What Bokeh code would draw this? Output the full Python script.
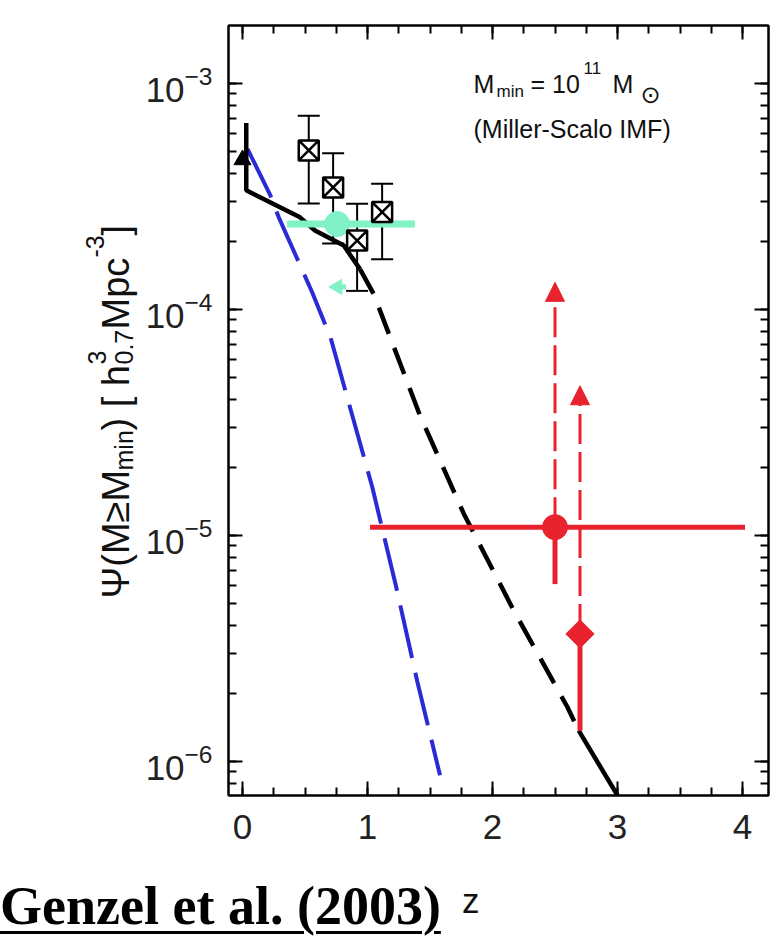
import math
from bokeh.plotting import figure
from bokeh.layouts import column, row
from bokeh.models import (Range1d, LinearAxis, LogAxis, SingleIntervalTicker, LogTicker,
                          CustomJSTickFormatter, Label, Whisker, TeeHead, Arrow, NormalHead,
                          ColumnDataSource, Div)
from bokeh.core.properties import value
from bokeh.embed import file_html
from bokeh.resources import INLINE

# ---------------- data ----------------
black_solid_z = [0.03, 0.03, 0.46, 0.58, 0.81, 0.94]
black_solid_psi = [6.7e-4, 3.37e-4, 2.56e-4, 2.24e-4, 1.92e-4, 1.51e-4]
black_dash_z = [0.94, 1.05, 1.42, 1.77, 2.17, 2.60, 2.69]
black_dash_psi = [1.51e-4, 1.17e-4, 3.4e-5, 1.25e-5, 4.66e-6, 1.74e-6, 1.37e-6]
black_tail_z = [2.69, 3.03]
black_tail_psi = [1.37e-6, 6.65e-7]

blue_z = [0.04, 0.224, 0.29, 0.558, 0.704, 1.038, 1.224, 1.397, 1.58]
blue_psi = [5.14e-4, 3.19e-4, 2.56e-4, 1.19e-4, 7.53e-5, 1.64e-5, 6.11e-6, 2.28e-6, 8.7e-7]

tri_z = [0.0]
tri_psi = [4.6e-4]

sq_z = [0.53, 0.725, 0.917, 1.117]
sq_psi = [5.06e-4, 3.47e-4, 2.02e-4, 2.70e-4]
sq_hi = [7.2e-4, 4.92e-4, 2.94e-4, 3.6e-4]
sq_lo = [2.95e-4, 1.96e-4, 1.21e-4, 1.67e-4]

green_z = [0.757]
green_psi = [2.39e-4]
green_zlo = [0.357]
green_zhi = [1.38]
green_lim_z = [0.76]
green_lim_psi = [1.26e-4]

red_c_z = [2.5]
red_c_psi = [1.09e-5]
red_c_zlo = [1.02]
red_c_zhi = [4.02]
red_c_lo = [6.1e-6]
red_c_lim = [1.32e-4]

red_d_z = [2.7]
red_d_psi = [3.67e-6]
red_d_lo = [1.37e-6]
red_d_lim = [4.6e-5]

BLUE = "#2b2bd6"
RED = "#e8232e"
GREEN = "#80f2c6"

W, H = 778, 939
LEFT_W = 141          # strip holding the y-axis title
TOP_H = 860           # height of the plot row
BOT_H = H - TOP_H     # strip holding caption and x-axis title
FR_TOP, FR_BOT = 25, 795   # page y of the plot frame

# pixel (page) -> data helpers for text inside the frame
def zx(px):
    return (px - 242.0) / 125.0

def vy(py):
    return 10 ** (-3.0 - (py - 83.0) / 226.0)

p = figure(width=W - LEFT_W, height=TOP_H, x_range=Range1d(-0.112, 4.208),
           y_range=Range1d(10 ** -6.15, 10 ** -2.743), y_axis_type="log",
           output_backend="svg", toolbar_location=None, title=None,
           min_border_left=228 - LEFT_W, min_border_right=10, min_border_top=FR_TOP,
           min_border_bottom=TOP_H - FR_BOT)
p.grid.visible = False
p.outline_line_color = "black"
p.outline_line_width = 2
p.background_fill_color = "white"
p.border_fill_color = "white"

TICK_FONT = "Liberation Sans"

def style_axis(ax):
    ax.axis_line_color = "black"
    ax.axis_line_width = 2
    ax.major_tick_in = 14
    ax.major_tick_out = 0
    ax.minor_tick_in = 8
    ax.minor_tick_out = 0
    ax.major_tick_line_width = 2
    ax.minor_tick_line_width = 2
    ax.major_label_text_font = TICK_FONT
    ax.major_label_text_font_size = "35px"
    ax.major_label_text_color = "#222222"

xa = p.xaxis[0]
xa.ticker = SingleIntervalTicker(interval=1, num_minor_ticks=4)
style_axis(xa)
xa.major_label_standoff = 19

ya = p.yaxis[0]
ya.ticker = LogTicker(num_minor_ticks=10)
style_axis(ya)
ya.major_label_standoff = 16

empty = CustomJSTickFormatter(code="return ''")
top = LinearAxis(ticker=SingleIntervalTicker(interval=1, num_minor_ticks=4), formatter=empty)
style_axis(top)
top.major_label_standoff = 0
p.add_layout(top, "above")
right = LogAxis(ticker=LogTicker(num_minor_ticks=10), formatter=empty)
style_axis(right)
right.major_label_standoff = 0
p.add_layout(right, "right")

# ---------------- curves ----------------
p.line(blue_z, blue_psi, line_color=BLUE, line_width=4, line_dash="54 15")
p.line(black_solid_z, black_solid_psi, line_color="black", line_width=4.5)
p.line(black_dash_z, black_dash_psi, line_color="black", line_width=4.5, line_dash="28 15")
p.line(black_tail_z, black_tail_psi, line_color="black", line_width=4.5)

# green point
p.segment(x0=green_zlo, y0=green_psi, x1=green_zhi, y1=green_psi, line_color=GREEN, line_width=7)
p.scatter(green_z, green_psi, marker="circle", size=25, fill_color=GREEN, line_color=GREEN)
p.segment(x0=green_lim_z, y0=green_lim_psi, x1=[z + 0.07 for z in green_lim_z], y1=green_lim_psi,
          line_color=GREEN, line_width=5)
p.scatter(green_lim_z, green_lim_psi, marker="triangle", angle=math.pi / 2, size=15,
          fill_color=GREEN, line_color=GREEN)

# squares with error bars
sq_src = ColumnDataSource(dict(z=sq_z, psi=sq_psi, hi=sq_hi, lo=sq_lo))
p.add_layout(Whisker(source=sq_src, base="z", upper="hi", lower="lo", dimension="height",
                     line_color="black", line_width=2,
                     upper_head=TeeHead(size=22, line_width=2, line_color="black"),
                     lower_head=TeeHead(size=22, line_width=2, line_color="black")))
p.scatter("z", "psi", source=sq_src, marker="square_x", size=20, fill_color="white",
          line_color="black", line_width=2.5)

# triangle at z=0
p.scatter(tri_z, tri_psi, marker="triangle", size=17, fill_color="black", line_color="black")

# red points
p.segment(x0=red_c_zlo, y0=red_c_psi, x1=red_c_zhi, y1=red_c_psi, line_color=RED, line_width=5)
p.segment(x0=red_c_z, y0=red_c_psi, x1=red_c_z, y1=red_c_lo, line_color=RED, line_width=5)
p.add_layout(Arrow(x_start=red_c_z[0], y_start=red_c_psi[0], x_end=red_c_z[0], y_end=red_c_lim[0],
                   line_color=RED, line_width=3, line_dash="30 8",
                   end=NormalHead(size=19, fill_color=RED, line_color=RED, line_width=1)))
p.scatter(red_c_z, red_c_psi, marker="circle", size=25, fill_color=RED, line_color=RED)

p.segment(x0=red_d_z, y0=red_d_psi, x1=red_d_z, y1=red_d_lo, line_color=RED, line_width=5)
p.add_layout(Arrow(x_start=red_d_z[0], y_start=red_d_psi[0], x_end=red_d_z[0], y_end=red_d_lim[0],
                   line_color=RED, line_width=3, line_dash="30 8",
                   end=NormalHead(size=19, fill_color=RED, line_color=RED, line_width=1)))
p.scatter(red_d_z, red_d_psi, marker="square", angle=math.pi / 4, size=20,
          fill_color=RED, line_color=RED)

# ---------------- annotation in upper right (inside frame) ----------------
def lab(txt, px, py, size, font="Liberation Sans"):
    p.add_layout(Label(x=zx(px), y=vy(py), text=txt, text_font=font,
                       text_font_size=f"{size}px", text_color="#111111",
                       text_align="left", text_baseline="alphabetic"))

lab("M", 473, 83, 25)
lab("min", 496, 91, 17)
lab("= 10", 530, 83, 25)
lab("11", 583, 67, 17)
lab("M", 612, 83, 25)
lab("\u2299", 640, 94, 24, font="DejaVu Sans")
lab("(Miller-Scalo IMF)", 473, 128, 25)

# ---------------- left strip: y-axis title ----------------
lf = figure(width=LEFT_W, height=TOP_H, x_range=Range1d(0, LEFT_W),
            y_range=Range1d(TOP_H - FR_BOT, TOP_H - FR_TOP),
            output_backend="svg", toolbar_location=None, title=None,
            x_axis_location=None, y_axis_location=None,
            min_border_left=0, min_border_right=0,
            min_border_top=FR_TOP, min_border_bottom=TOP_H - FR_BOT)
lf.grid.visible = False
lf.outline_line_color = None
lf.background_fill_color = "white"
lf.border_fill_color = "white"

R = math.pi / 2
ylab_parts = [
    # text, x of baseline, page y of start, font px
    ("\u03a8(M\u2265M", 115, 598, 38),
    ("min", 123, 470, 25),
    (") [ h", 115, 430, 38),
    ("3", 96, 364, 25),
    ("0.7", 123, 364, 25),
    ("Mpc", 115, 329, 38),
    ("-3", 94, 257, 25),
    (" ]", 115, 235, 38),
]
for t, bx, sy, fs in ylab_parts:
    lf.text(x=[bx], y=[TOP_H - sy], text=[t], angle=R,
            text_font=value("Liberation Sans"), text_font_size=value(f"{fs}px"),
            text_color="#111111", text_align="left", text_baseline="alphabetic")

# ---------------- bottom strip: caption and x-axis title ----------------
bottom_html = (
    '<div style="position:relative;margin:0;padding:0;width:%dpx;height:%dpx;background:white;">'
    '<span style="position:absolute;left:0px;top:19px;margin:0;white-space:nowrap;'
    "font-family:'Liberation Serif';font-weight:bold;font-size:54px;line-height:1;color:black;"
    'text-decoration:underline;text-decoration-thickness:3px;text-underline-offset:7px;">'
    'Genzel et al. (2003)</span>'
    '<span style="position:absolute;left:462px;top:23px;margin:0;white-space:nowrap;'
    "font-family:'Liberation Sans';font-size:35px;line-height:1;color:#111111;\">z</span>"
    '</div>'
) % (W, BOT_H)
bf = Div(text=bottom_html, width=W, height=BOT_H, margin=(0, 0, 0, 0))

layout = column(row(lf, p, spacing=0), bf, spacing=0)
open("out.html", "w").write(file_html(layout, INLINE))
